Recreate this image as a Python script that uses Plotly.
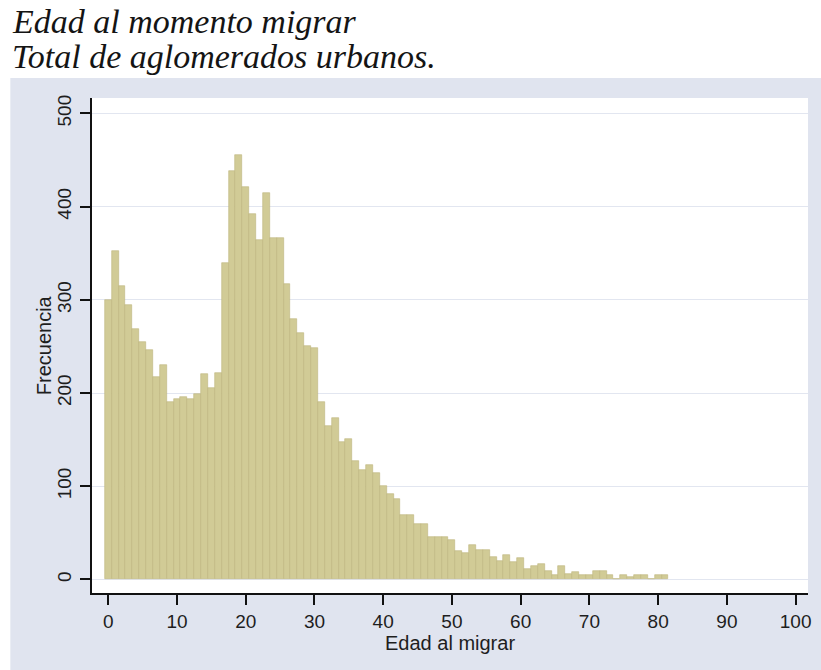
import plotly.graph_objects as go

# Data: frequency by age at migration (ages 0..81)
ages = list(range(0, 82))
frecuencia = [
    300, 352, 315, 295, 269, 255, 246, 217, 230, 190,
    194, 196, 194, 199, 220, 205, 222, 340, 438, 455,
    421, 392, 364, 415, 366, 366, 317, 280, 265, 251,
    248, 190, 165, 173, 147, 151, 127, 118, 123, 114,
    100, 92, 86, 69, 69, 60, 60, 46, 46, 46,
    42, 31, 28, 37, 32, 32, 24, 20, 26, 19,
    23, 11, 14, 17, 9, 5, 14, 6, 8, 5,
    5, 9, 9, 5, 0, 5, 3, 5, 5, 0,
    5, 5,
]
x_ticks = list(range(0, 101, 10))
y_ticks = list(range(0, 501, 100))
title_lines = ["Edad al momento migrar", "Total de aglomerados urbanos."]
x_title = "Edad al migrar"
y_title = "Frecuencia"

W, H = 821, 670
L, R, T, B = 92, 811, 98, 593  # plot area in pixels
pw, ph = R - L, B - T

def px(x):
    return (x - L) / pw

def py(y):
    return (B - y) / ph

fig = go.Figure()
fig.add_trace(go.Bar(
    x=ages, y=frecuencia, width=1,
    marker=dict(color="#d1cb96", line=dict(color="#bdb67c", width=0.6)),
    hoverinfo="x+y",
))

tick_font = dict(family="Liberation Sans, Arial, sans-serif", size=19, color="#1e1e1e")
title_font = dict(family="Liberation Sans, Arial, sans-serif", size=20, color="#1e1e1e")
serif = dict(family="Liberation Serif, Times New Roman, serif", size=34, color="#141414")

fig.update_layout(
    width=W, height=H,
    margin=dict(l=L, r=W - R, t=T, b=H - B, pad=0),
    paper_bgcolor="white",
    plot_bgcolor="white",
    showlegend=False,
    bargap=0,
    xaxis=dict(
        range=[-2.36, 101.8],
        tickmode="array", tickvals=x_ticks, ticktext=[str(v) for v in x_ticks],
        showgrid=False, zeroline=False,
        showline=True, linecolor="#111111", linewidth=1.6,
        ticks="outside", ticklen=10, tickwidth=1.6, tickcolor="#111111",
        tickfont=tick_font, ticklabelstandoff=0,
    ),
    yaxis=dict(
        range=[-14.5, 516.6],
        tickmode="array", tickvals=y_ticks, ticktext=[str(v) for v in y_ticks],
        showgrid=True, gridcolor="#e2e6f0", gridwidth=1.4,
        zeroline=False,
        showline=True, linecolor="#111111", linewidth=1.6,
        ticks="outside", ticklen=10, tickwidth=1.6, tickcolor="#111111",
        tickfont=tick_font, tickangle=-90, ticklabelstandoff=2,
    ),
    shapes=[
        dict(type="rect", xref="paper", yref="paper", layer="below",
             x0=px(10), x1=px(W + 5), y0=py(H + 5), y1=py(78),
             fillcolor="#e0e4ef", line=dict(width=0)),
        dict(type="rect", xref="paper", yref="paper", layer="below",
             x0=px(L), x1=px(R), y0=py(B), y1=py(T),
             fillcolor="white", line=dict(width=0)),
    ],
    annotations=[
        dict(text="<i>" + title_lines[0] + "</i>", xref="paper", yref="paper",
             x=px(10), y=py(22), xanchor="left", yanchor="middle", showarrow=False,
             font=serif),
        dict(text="<i>" + title_lines[1] + "</i>", xref="paper", yref="paper",
             x=px(10), y=py(57), xanchor="left", yanchor="middle", showarrow=False,
             font=serif),
        dict(text=x_title, xref="paper", yref="paper",
             x=px(451), y=py(643), xanchor="center", yanchor="middle", showarrow=False,
             font=title_font),
        dict(text=y_title, xref="paper", yref="paper", textangle=-90,
             x=px(44), y=py(345), xanchor="center", yanchor="middle", showarrow=False,
             font=title_font),
    ],
)

fig.write_html("out.html", config={"displayModeBar": False},
               post_script="document.body.style.margin='0px';")
